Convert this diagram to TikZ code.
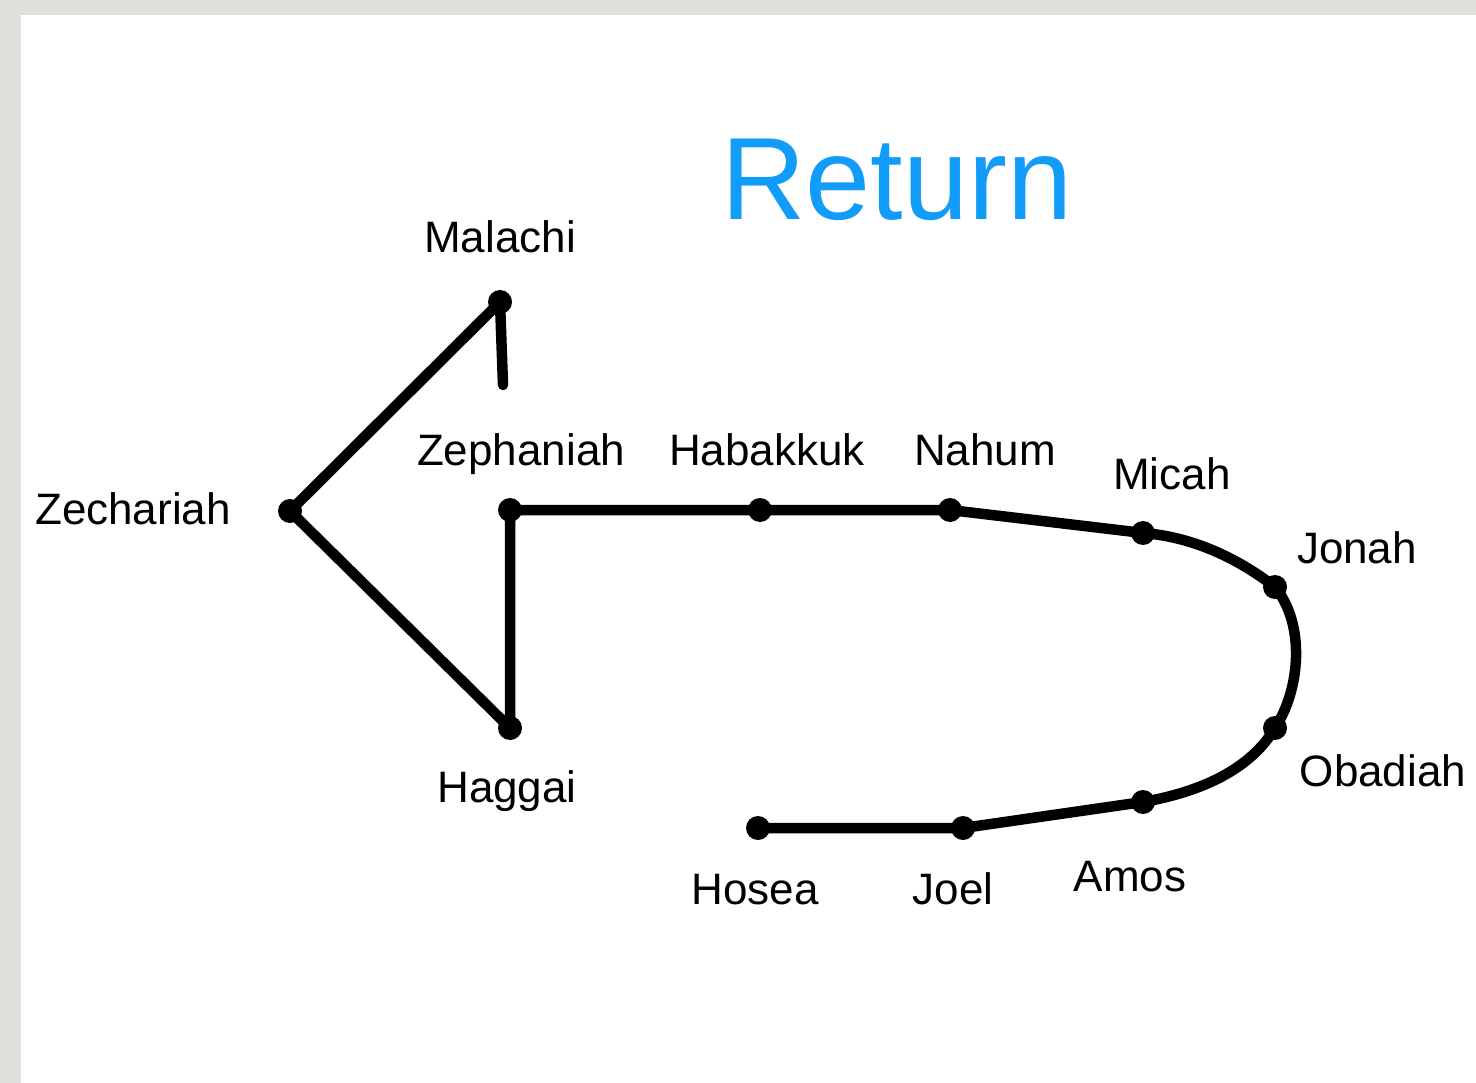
\documentclass[tikz,border=0pt]{standalone}
\usepackage{fontspec}
\setmainfont{Liberation Sans}
\begin{document}
\begin{tikzpicture}[x=1pt,y=-1pt,
  lbl/.style={anchor=base,inner sep=0pt,font=\fontsize{44}{50}\selectfont,text=black},
  road/.style={line width=10.5pt,line join=round,line cap=round},
  dotmark/.style={circle,fill=black,minimum size=24pt,inner sep=0pt}]
\definecolor{bg}{RGB}{224,223,219}
\definecolor{retblue}{RGB}{18,156,250}
\fill[bg] (0,0) rectangle (1476,1083);
\fill[white] (21,15) rectangle (1476,1083);
\useasboundingbox (0,0) rectangle (1476,1083);
% points
\coordinate (mal) at (500,302);
\coordinate (malend) at (503,385);
\coordinate (zec) at (290,511);
\coordinate (zep) at (510,510);
\coordinate (hag) at (510,728);
\coordinate (hab) at (760,510);
\coordinate (nah) at (950,510);
\coordinate (mic) at (1143,533);
\coordinate (jon) at (1275,587);
\coordinate (oba) at (1275,728);
\coordinate (amo) at (1143,802);
\coordinate (joe) at (963,828);
\coordinate (hos) at (758,828);
% connectors
\draw[road] (hos) -- (joe) -- (amo)
  .. controls (1200,792) and (1250,770) .. (oba)
  .. controls (1300,690) and (1306,625) .. (jon)
  .. controls (1240,560) and (1195,537) .. (mic)
  -- (nah) -- (hab) -- (zep) -- (hag) -- (zec) -- (mal) -- (malend);
% dots
\foreach \p in {mal,zec,zep,hag,hab,nah,mic,jon,oba,amo,joe,hos}
  \node[dotmark] (d\p) at (\p) {};
% title
\node[anchor=base,inner sep=0pt,text=retblue,font=\fontsize{117}{130}\selectfont] (title) at (897,220) {Return};
% labels
\node[lbl] (tmal) at (500,253) {Malachi};
\node[lbl] (tzep) at (521,465) {Zephaniah};
\node[lbl] (thab) at (767,465) {Habakkuk};
\node[lbl] (tnah) at (985,465) {Nahum};
\node[lbl] (tmic) at (1172,489) {Micah};
\node[lbl] (tjon) at (1357,563) {Jonah};
\node[lbl] (tzec) at (133,524) {Zechariah};
\node[lbl] (thag) at (507,802) {Haggai};
\node[lbl] (toba) at (1383,786) {Obadiah};
\node[lbl] (thos) at (755,904) {Hosea};
\node[lbl] (tjoe) at (953,904) {Joel};
\node[lbl] (tamo) at (1130,891) {Amos};
\end{tikzpicture}
\end{document}
